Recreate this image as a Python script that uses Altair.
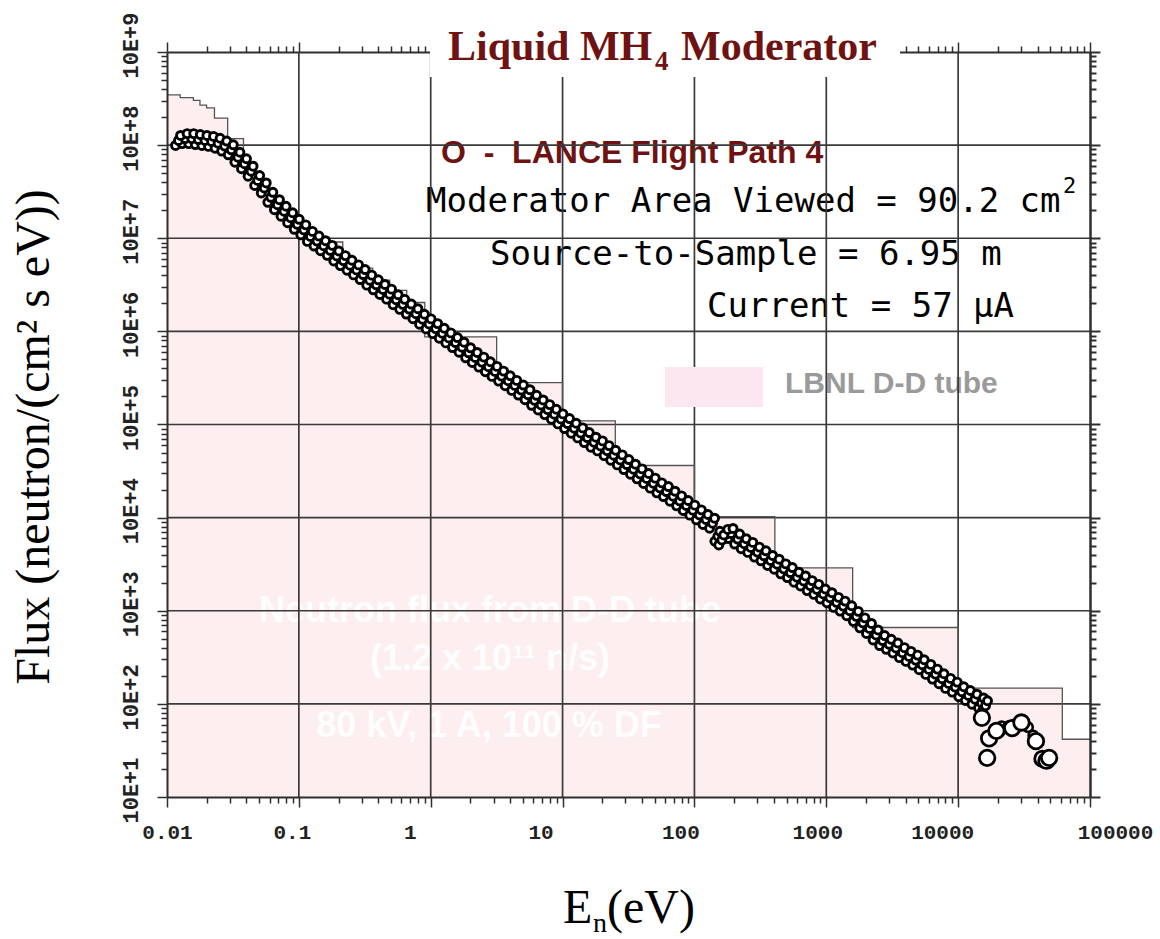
import altair as alt
import pandas as pd

# ---------------- data (log10 values) ----------------
# LANCE Flight Path 4 measured spectrum (open circles)
lance_log10_energy = [
    -1.92, -1.87, -1.82, -1.77, -1.72, -1.67, -1.62, -1.57, -1.52, -1.47,
    -1.42, -1.37, -1.32, -1.27, -1.22, -1.17, -1.12, -1.07, -1.02, -0.97,
    -0.92, -0.87, -0.82, -0.77, -0.72, -0.67, -0.62, -0.57, -0.52, -0.47,
    -0.42, -0.37, -0.32, -0.27, -0.22, -0.17, -0.12, -0.07, -0.02, 0.03,
    0.08, 0.13, 0.18, 0.23, 0.28, 0.33, 0.38, 0.43, 0.48, 0.53,
    0.58, 0.63, 0.68, 0.73, 0.78, 0.83, 0.88, 0.93, 0.98, 1.03,
    1.08, 1.13, 1.18, 1.23, 1.28, 1.33, 1.38, 1.43, 1.48, 1.53,
    1.58, 1.63, 1.68, 1.73, 1.78, 1.83, 1.88, 1.93, 1.98, 2.03,
    2.08, 2.13, 2.17, 2.20, 2.23, 2.27, 2.32, 2.37, 2.42, 2.47,
    2.52, 2.57, 2.62, 2.67, 2.72, 2.77, 2.82, 2.87, 2.92, 2.97,
    3.02, 3.07, 3.12, 3.17, 3.22, 3.27, 3.32, 3.37, 3.42, 3.47,
    3.52, 3.57, 3.62, 3.67, 3.72, 3.77, 3.82, 3.87, 3.92, 3.97,
    4.02, 4.07, 4.12, 4.17, 4.20,
]
lance_log10_flux = [
    8.05, 8.07, 8.07, 8.06, 8.05, 8.04, 8.02, 7.99, 7.95, 7.87,
    7.80, 7.72, 7.62, 7.54, 7.44, 7.36, 7.29, 7.22, 7.15, 7.09,
    7.02, 6.97, 6.92, 6.87, 6.81, 6.76, 6.71, 6.66, 6.61, 6.55,
    6.50, 6.45, 6.40, 6.34, 6.29, 6.24, 6.19, 6.13, 6.08, 6.03,
    5.98, 5.93, 5.88, 5.83, 5.77, 5.72, 5.67, 5.62, 5.57, 5.52,
    5.47, 5.42, 5.37, 5.32, 5.26, 5.21, 5.16, 5.11, 5.06, 5.01,
    4.96, 4.91, 4.86, 4.81, 4.77, 4.72, 4.67, 4.62, 4.57, 4.52,
    4.47, 4.42, 4.37, 4.32, 4.28, 4.23, 4.18, 4.13, 4.08, 4.03,
    3.98, 3.94, 3.80, 3.76, 3.82, 3.83, 3.77, 3.72, 3.68, 3.63,
    3.59, 3.54, 3.50, 3.45, 3.41, 3.36, 3.32, 3.27, 3.23, 3.18,
    3.14, 3.09, 3.05, 3.00, 2.94, 2.87, 2.81, 2.74, 2.68, 2.64,
    2.60, 2.55, 2.51, 2.47, 2.42, 2.37, 2.32, 2.27, 2.22, 2.18,
    2.13, 2.09, 2.05, 2.01, 1.98,
]
# scattered high-energy points
tail_small_log10_energy = [4.33, 4.38, 4.43, 4.53, 4.57, 4.60]
tail_small_log10_flux = [1.76, 1.76, 1.78, 1.75, 1.66, 1.58]
tail_large_log10_energy = [4.18, 4.235, 4.22, 4.29, 4.41, 4.48, 4.59, 4.64, 4.67, 4.69]
tail_large_log10_flux = [1.85, 1.63, 1.42, 1.71, 1.74, 1.80, 1.60, 1.41, 1.39, 1.42]

# LBNL D-D tube histogram: bin left edges (log10 eV), last right edge, bin values (log10 flux)
dd_bin_left_log10_energy = [
    -2.00, -1.90, -1.80, -1.75, -1.70, -1.64, -1.54, -1.42, -1.32, -1.22,
    -1.12, -1.02, -0.90, -0.667, -0.44, -0.311, -0.182, -0.045, 0.50, 1.00,
    1.40, 2.00, 2.61, 3.20, 4.00, 4.79,
]
dd_last_right_log10_energy = 5.00
dd_log10_flux = [
    8.54, 8.51, 8.48, 8.43, 8.40, 8.29, 8.07, 7.74, 7.56, 7.37,
    7.22, 7.10, 6.96, 6.68, 6.55, 6.44, 6.31, 5.94, 5.45, 5.04,
    4.56, 4.01, 3.46, 2.82, 2.17, 1.62,
]

# axis ticks
x_major_ticks = [0.01, 0.1, 1, 10, 100, 1000, 10000, 100000]
y_major_ticks = [1e1, 1e2, 1e3, 1e4, 1e5, 1e6, 1e7, 1e8, 1e9]
minor_multipliers = [2, 3, 4, 5, 6, 7, 8, 9]
x_all_ticks = x_major_ticks + [m * d for d in x_major_ticks[:-1] for m in minor_multipliers]
y_all_ticks = y_major_ticks + [m * d for d in y_major_ticks[:-1] for m in minor_multipliers]
x_grid = x_major_ticks[1:-1]
y_grid = y_major_ticks[1:-1]

# ---------------- tables ----------------
lance = pd.DataFrame({"E": [10 ** v for v in lance_log10_energy],
                      "F": [10 ** v for v in lance_log10_flux]})
tail_small = pd.DataFrame({"E": [10 ** v for v in tail_small_log10_energy],
                           "F": [10 ** v for v in tail_small_log10_flux]})
tail_large = pd.DataFrame({"E": [10 ** v for v in tail_large_log10_energy],
                           "F": [10 ** v for v in tail_large_log10_flux]})
hist = pd.DataFrame({
    "E": [10 ** v for v in dd_bin_left_log10_energy] + [10 ** dd_last_right_log10_energy],
    "F": [10 ** v for v in dd_log10_flux] + [10 ** dd_log10_flux[-1]],
})
hist["base"] = 10.0

W, H = 923, 745
xscale = alt.Scale(type="log", domain=[0.01, 100000], nice=False)
yscale = alt.Scale(type="log", domain=[10, 1e9], nice=False)

MAJOR = "abs(log(datum.value)/LN10 - round(log(datum.value)/LN10)) < 1e-6"
tick_size = {"condition": {"test": MAJOR, "value": 10}, "value": 6}
AX = "#2e2e2e"

x_label_offset = {
    "condition": [
        {"test": "datum.value == 0.1", "value": -7},
        {"test": "datum.value == 1", "value": -21},
        {"test": "datum.value == 10", "value": -22},
        {"test": "datum.value == 100", "value": -14},
        {"test": "datum.value == 1000", "value": -9},
        {"test": "datum.value == 10000", "value": -16},
        {"test": "datum.value == 100000", "value": 25},
    ],
    "value": 0,
}

x_axis_bottom = alt.Axis(
    orient="bottom", values=x_all_ticks, title=None, grid=False,
    domainColor=AX, domainWidth=2, tickColor=AX, tickWidth=1.5, tickSize=tick_size,
    labelExpr=f"({MAJOR}) ? (datum.value < 1 ? format(datum.value, '.2~f') : format(datum.value, 'd')) : ''",
    labelFont="Liberation Mono", labelFontWeight="bold", labelFontSize=21, labelColor="#222",
    labelPadding=14, labelFlush=False, labelOverlap=False, labelBound=False,
    labelOffset=x_label_offset, zindex=1,
)
y_axis_left = alt.Axis(
    orient="left", values=y_all_ticks, title=None, grid=False,
    domainColor=AX, domainWidth=2, tickColor=AX, tickWidth=1.5, tickSize=tick_size,
    labelExpr=f"({MAJOR}) ? '10E+' + round(log(datum.value)/LN10) : ''",
    labelFont="Liberation Mono", labelFontWeight="bold", labelFontSize=22, labelColor="#222",
    labelAngle=270, labelAlign="center", labelBaseline="bottom", labelPadding=15,
    labelOffset=-7, labelOverlap=False, labelBound=False, labelFlush=False, zindex=1,
)
x_axis_top = alt.Axis(
    orient="top", values=x_all_ticks, title=None, grid=False, labels=False,
    domainColor=AX, domainWidth=2, tickColor=AX, tickWidth=1.5, tickSize=tick_size, zindex=0,
)
y_axis_right = alt.Axis(
    orient="right", values=y_all_ticks, title=None, grid=False, labels=False,
    domainColor=AX, domainWidth=2.5, tickColor=AX, tickWidth=2, tickSize=tick_size, zindex=1,
)

one = pd.DataFrame({"k": [0]})


def txt(text, x, y, size, color="black", font="Liberation Sans", weight="normal",
        align="left", angle=0, baseline="alphabetic", opacity=1.0):
    return alt.Chart(one).mark_text(
        text=text, font=font, fontSize=size, fontWeight=weight, color=color,
        align=align, baseline=baseline, angle=angle, opacity=opacity,
    ).encode(x=alt.value(x), y=alt.value(y))


def box(x, x2, y, y2, color):
    return alt.Chart(one).mark_rect(color=color, opacity=1).encode(
        x=alt.value(x), x2=alt.value(x2), y=alt.value(y), y2=alt.value(y2))


# ---------------- layers ----------------
area = alt.Chart(hist).mark_area(interpolate="step-after", color="#FDEEF0", opacity=1).encode(
    x=alt.X("E:Q", scale=xscale, axis=x_axis_bottom),
    y=alt.Y("F:Q", scale=yscale, axis=y_axis_left),
    y2="base:Q",
)
hist_line = alt.Chart(hist).mark_line(interpolate="step-after", color="#555555", strokeWidth=1.3).encode(
    x=alt.X("E:Q", scale=xscale, axis=None),
    y=alt.Y("F:Q", scale=yscale, axis=None),
)
xgrid = alt.Chart(pd.DataFrame({"E": x_grid})).mark_rule(color="#3a3a3a", strokeWidth=1.7).encode(
    x=alt.X("E:Q", scale=xscale, axis=x_axis_top))
ygrid = alt.Chart(pd.DataFrame({"F": y_grid})).mark_rule(color="#3a3a3a", strokeWidth=1.7).encode(
    y=alt.Y("F:Q", scale=yscale, axis=y_axis_right))


def circles(df, size, yoff=0, xoff=0, sw=2.2):
    return alt.Chart(df).mark_point(
        shape="circle", filled=True, fill="white", stroke="black", strokeWidth=sw,
        size=size, opacity=1, fillOpacity=1, strokeOpacity=1,
    ).encode(
        x=alt.X("E:Q", scale=xscale, axis=None),
        y=alt.Y("F:Q", scale=yscale, axis=None),
        yOffset=alt.value(yoff), xOffset=alt.value(xoff),
    )


band_a = circles(lance, 64, yoff=5, xoff=-2, sw=2.9)
band_b = circles(lance, 64, yoff=0, xoff=1, sw=2.9)
band_c = circles(lance, 64, yoff=-5, xoff=3, sw=2.9)
tail_s = circles(tail_small, 90, sw=2.6)
tail_l = circles(tail_large, 240, sw=2.8)

DARKRED = "#6E1212"
NB = "\u00a0"

texts_under_grid = [
    txt("Neutron flux from D-D tube", 323, 570, 36, color="white", weight="bold", align="center", opacity=0.95),
    txt("(1.2 x 10\u00b9\u00b9 n/s)", 323, 618, 36, color="white", weight="bold", align="center", opacity=0.95),
    txt("80 kV, 1 A, 100 % DF", 322, 685, 36, color="white", weight="bold", align="center", opacity=0.95),
    txt(f"O{NB}{NB}-{NB}{NB}LANCE Flight Path 4", 274, 111, 32, color=DARKRED, weight="bold"),
    txt("Moderator Area Viewed = 90.2 cm", 259, 160, 34, font="DejaVu Sans Mono"),
    txt("2", 896, 141, 22, font="DejaVu Sans Mono"),
    txt("Source-to-Sample = 6.95 m", 323, 213, 34, font="DejaVu Sans Mono"),
    txt("Current = 57 \u03bcA", 540, 265, 34, font="DejaVu Sans Mono"),
    txt("LBNL D-D tube", 618, 341, 30, color="#9a9a9a", weight="bold"),
]

over = [
    box(498, 596, 315, 355, "#FCE6EF"),
    box(263, 733, -44, 25, "white"),
    txt("Liquid MH", 281, 8, 42, color=DARKRED, font="Liberation Serif", weight="bold"),
    txt("4", 488, 18, 27, color=DARKRED, font="Liberation Serif", weight="bold"),
    txt("Moderator", 514, 8, 42, color=DARKRED, font="Liberation Serif", weight="bold"),
    # axis titles
    txt("Flux (neutron/(cm\u00b2 s eV))", -132, 385, 48, font="Liberation Serif",
        align="center", baseline="middle", angle=270),
    txt("E", 396, 871, 48, font="Liberation Serif"),
    txt("n", 426, 880, 28, font="Liberation Serif"),
    txt("(eV)", 440, 871, 48, font="Liberation Serif"),
]

chart = alt.layer(
    area, *texts_under_grid, xgrid, ygrid, hist_line, band_a, band_b, band_c, tail_s, tail_l, *over
).resolve_axis(x="independent", y="independent").properties(
    width=W, height=H,
    autosize=alt.AutoSizeParams(type="none"),
    padding={"left": 167, "top": 52, "right": 70, "bottom": 142},
    background="white",
).configure_view(stroke=None)

chart.save("out.html", embed_options={"renderer": "svg", "actions": False})
